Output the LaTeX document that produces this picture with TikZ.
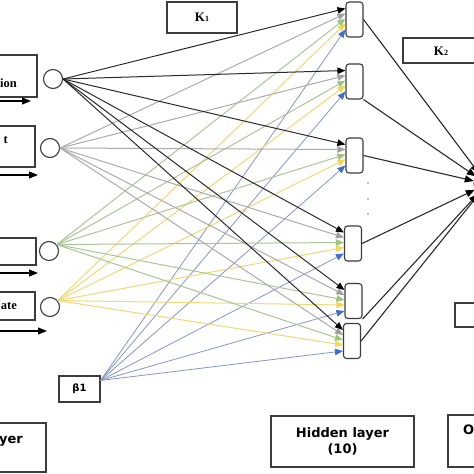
\documentclass[tikz,border=0pt]{standalone}
\usepackage{fontspec}
\setmainfont{Liberation Serif}
\newfontfamily\vsans{DejaVu Sans}
\usetikzlibrary{arrows.meta,calc}
\definecolor{lblack}{HTML}{2A2A2A}
\definecolor{lgray}{HTML}{ABABAB}
\definecolor{lgreen}{HTML}{AAC597}
\definecolor{lyellow}{HTML}{F0D878}
\definecolor{lblue}{HTML}{8496C4}
\definecolor{hgray}{HTML}{A0A0A0}
\definecolor{hgreen}{HTML}{9CC47E}
\definecolor{hyellow}{HTML}{F2D650}
\definecolor{hblue}{HTML}{3F6ECC}
\definecolor{boxc}{HTML}{3C3C3C}
\tikzset{
  frame/.style={draw=boxc, line width=1.1pt},
  hid/.style={draw=boxc, line width=1.1pt, rounded corners=3pt, minimum width=17pt, minimum height=35pt, inner sep=0pt, fill=white},
  inc/.style={circle, draw=boxc, line width=1.1pt, minimum size=19pt, inner sep=0pt},
  cb/.style={lblack, line width=1pt, -{Triangle[length=8pt,width=6.5pt,color=black]}},
  cg/.style={lgray, line width=1pt, -{Triangle[length=8pt,width=6.5pt,color=hgray]}},
  cgr/.style={lgreen, line width=1pt, -{Triangle[length=8pt,width=6.5pt,color=hgreen]}},
  cy/.style={lyellow, line width=1pt, -{Triangle[length=8pt,width=6.5pt,color=hyellow]}},
  cbl/.style={lblue, line width=0.8pt, -{Triangle[length=8pt,width=6.5pt,color=hblue]}},
  cin/.style={black, line width=1.1pt, -{Triangle[length=9pt,width=7pt]}},
  cout/.style={lblack, line width=1.1pt, -{Triangle[length=9pt,width=7pt,color=black]}},
  serl/.style={font=\fontsize{12.5}{12.5}\selectfont\bfseries, inner sep=0pt},
  sansl/.style={font=\vsans\fontsize{13}{16}\selectfont\bfseries, inner sep=0pt, align=center},
}
\begin{document}
\begin{tikzpicture}[x=1pt,y=-1pt]
\useasboundingbox (0,0) rectangle (474,474);
% input boxes (cut at left edge)
\draw[frame] (-40,55) rectangle (37,97);
\draw[frame] (-40,126) rectangle (35,167);
\draw[frame] (-40,238) rectangle (36,265);
\draw[frame] (-40,292) rectangle (35,320);
\node[serl, anchor=base east] (t1) at (17,87) {ion};
\node[serl, anchor=base east] (t2) at (8,143) {t};
\node[serl, anchor=base east] (t4) at (17,309) {ate};
% input arrows
\coordinate (a1s) at (-40,101); \coordinate (a1e) at (31,101);
\coordinate (a2s) at (-40,175); \coordinate (a2e) at (38,175);
\coordinate (a3s) at (-40,273); \coordinate (a3e) at (38,273);
\coordinate (a4s) at (-40,331); \coordinate (a4e) at (47,331);
\draw[cin] (a1s) -- (a1e);
\draw[cin] (a2s) -- (a2e);
\draw[cin] (a3s) -- (a3e);
\draw[cin] (a4s) -- (a4e);
% input neurons
\node[inc] (i1) at (53,79) {};
\node[inc] (i2) at (50,148) {};
\node[inc] (i3) at (49,251) {};
\node[inc] (i4) at (50,307) {};
% bias box
\node[frame, minimum width=41pt, minimum height=26pt, inner sep=0pt, font=\vsans\fontsize{10}{10}\selectfont\bfseries] (b1) at (79.5,389) {β1};
\coordinate (bs) at ($(b1.north east)+(0,5)$);
% K boxes
\node[frame, minimum width=70pt, minimum height=31pt, inner sep=0pt, font=\fontsize{13}{13}\selectfont\bfseries] (k1) at (202,17.5) {K{\fontsize{8}{8}\selectfont 1}};
\draw[frame] (403,38) rectangle (490,63);
\node[font=\fontsize{13}{13}\selectfont\bfseries, inner sep=0pt] (k2) at (441,51) {K{\fontsize{8}{8}\selectfont 2}};
% hidden neurons
\node[hid] (h1) at (354.5,19.5) {};
\node[hid] (h2) at (354.5,81.5) {};
\node[hid] (h3) at (354.5,155.5) {};
\node[hid] (h4) at (353,243.5) {};
\node[hid] (h5) at (353.5,301) {};
\node[hid] (h6) at (352,341) {};
\foreach \y in {183,199,214} \fill[gray] (368,\y) circle (0.9pt);
% output neuron (cut at right edge)
\node[circle, draw=boxc, line width=1.1pt, minimum size=26pt, inner sep=0pt] (o) at (487,184) {};
% connections input -> hidden
\foreach \h in {h1,h2,h3,h4,h5,h6}{
  \draw[cbl] (bs) -- ([yshift=-10pt]\h.west);
  \draw[cy] (i4.40) -- ([yshift=-4pt]\h.west);
  \draw[cgr] (i3.40) -- ([yshift=1pt]\h.west);
  \draw[cg] (i2.east) -- ([yshift=6pt]\h.west);
  \draw[cb] (i1.east) -- ([yshift=11pt]\h.west);
}
% hidden -> output
\draw[cout] (h1.east) -- (o);
\draw[cout] (h2.south east) -- (o);
\draw[cout] (h3.east) -- (o);
\draw[cout] (h4.east) -- (o);
\draw[cout] (h5.south east) -- (o);
\draw[cout] (h6.east) -- (o);
% output label box (cut)
\draw[frame] (455,303) rectangle (490,327);
% layer boxes
\draw[frame] (-40,423) rectangle (46,472);
\node[sansl, anchor=base east] (ly) at (23,443) {yer};
\node[frame, minimum width=143pt, minimum height=51pt, sansl] (hl) at (342.5,441.5) {Hidden layer\\(10)};
\draw[frame] (448,415) rectangle (500,467);
\node[sansl, anchor=base west] (ol) at (463,434) {O};
\end{tikzpicture}
\end{document}
